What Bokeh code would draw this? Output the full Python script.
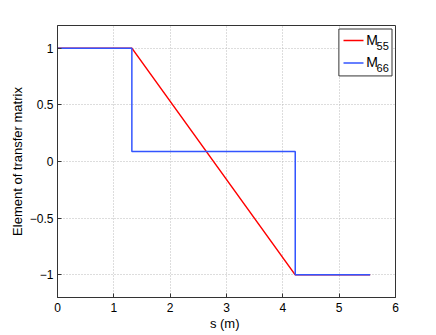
from bokeh.plotting import figure
from bokeh.models import Range1d, FixedTicker, Label, BoxAnnotation
from bokeh.embed import file_html
from bokeh.resources import INLINE

# data
s_m55 = [0.0, 1.32, 4.22, 5.55]
m55 = [1.0, 1.0, -1.0, -1.0]
s_m66 = [0.0, 1.32, 1.32, 4.22, 4.22, 5.55]
m66 = [1.0, 1.0, 0.088, 0.088, -1.0, -1.0]
x_ticks = [0, 1, 2, 3, 4, 5, 6]
y_ticks = [-1, -0.5, 0, 0.5, 1]
y_tick_labels = {-1: "\u22121", -0.5: "\u22120.5", 0: "0", 0.5: "0.5", 1: "1"}
series_names = ["M", "M"]
series_subs = ["55", "66"]
series_colors = ["#ff0000", "#3355ff"]

FONT = "Liberation Sans"

p = figure(frame_width=338, frame_height=272, output_backend="svg", toolbar_location=None,
           x_range=Range1d(0, 6), y_range=Range1d(-1.2, 1.2),
           min_border_left=57, min_border_right=25, min_border_top=25, min_border_bottom=22)

p.outline_line_color = "#333333"
p.outline_line_width = 1

for ax in (p.xaxis, p.yaxis):
    ax.major_tick_in = 4
    ax.major_tick_out = 0
    ax.minor_tick_in = 0
    ax.minor_tick_out = 0
    ax.axis_line_color = "#333333"
    ax.major_tick_line_color = "#333333"
    ax.major_label_text_font = FONT
    ax.major_label_text_font_size = "12px"
    ax.major_label_text_color = "black"
    ax.axis_label_text_font = FONT
    ax.axis_label_text_font_size = "13px"
    ax.axis_label_text_font_style = "normal"
    ax.axis_label_text_color = "black"

p.xaxis.ticker = FixedTicker(ticks=x_ticks)
p.yaxis.ticker = FixedTicker(ticks=y_ticks)
p.yaxis.major_label_overrides = y_tick_labels
p.xaxis.axis_label = "s  (m)"
p.yaxis.axis_label = "Element of transfer matrix"
p.xaxis.major_label_standoff = 5
p.xaxis.axis_label_standoff = 1
p.yaxis.major_label_standoff = 4
p.yaxis.axis_label_standoff = 2

p.xgrid.grid_line_color = "#bbbbbb"
p.ygrid.grid_line_color = "#bbbbbb"
p.xgrid.grid_line_dash = "1 2"
p.ygrid.grid_line_dash = "1 2"

p.line(s_m55, m55, line_color=series_colors[0], line_width=1.5)
p.line(s_m66, m66, line_color=series_colors[1], line_width=1.5)

# hand-made legend (for subscripts), positioned in plot-area coordinates
p.add_layout(BoxAnnotation(left=4.995, right=5.938, top=1.169, bottom=0.755,
                           fill_color="white", fill_alpha=1.0,
                           line_color="#333333", line_alpha=1.0, line_width=1,
                           level="underlay"))
line_y = [1.0676, 0.869]
name_y = [1.075, 0.877]
sub_y = [1.016, 0.824]
for i in range(2):
    p.segment(x0=[5.077], y0=[line_y[i]], x1=[5.432], y1=[line_y[i]],
              line_color=series_colors[i], line_width=1.5)
    p.add_layout(Label(x=5.48, y=name_y[i], text=series_names[i],
                       text_font=FONT, text_font_size="14px",
                       text_baseline="alphabetic", text_align="left", text_color="black"))
    p.add_layout(Label(x=5.663, y=sub_y[i], text=series_subs[i],
                       text_font=FONT, text_font_size="11px",
                       text_baseline="alphabetic", text_align="left", text_color="black"))

open("out.html", "w").write(file_html(p, INLINE))
